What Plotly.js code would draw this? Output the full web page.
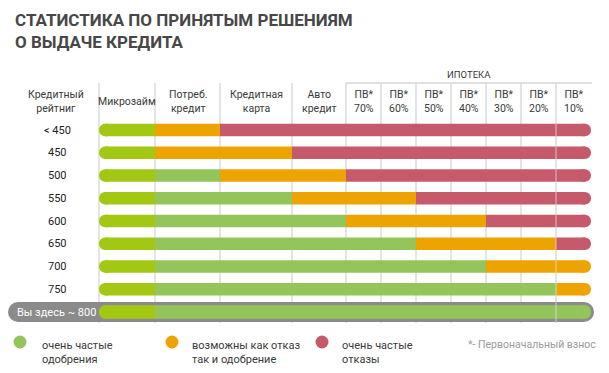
<!DOCTYPE html>
<html><head><meta charset="utf-8">
<script src="https://cdn.plot.ly/plotly-3.0.1.min.js"></script>
<style>html,body{margin:0;padding:0;background:#fff;}#chart{width:609px;height:373px;}</style>
</head><body><div id="chart"></div>
<script>
// ---------- data ----------
const ratings = ['< 450', '450', '500', '550', '600', '650', '700', '750', 'Вы здесь ~ 800'];
const products = ['Микрозайм', 'Потреб.<br>кредит', 'Кредитная<br>карта', 'Авто<br>кредит',
  'ПВ*<br>70%', 'ПВ*<br>60%', 'ПВ*<br>50%', 'ПВ*<br>40%', 'ПВ*<br>30%', 'ПВ*<br>20%', 'ПВ*<br>10%'];
const mortgageLabel = 'ИПОТЕКА';
const ratingHeader = 'Кредитный<br>рейтниг';
// A = очень частые одобрения, P = возможны как отказ так и одобрение, R = очень частые отказы
const decisions = [
  'APRRRRRRRRR',
  'APPRRRRRRRR',
  'AAPPRRRRRRR',
  'AAAPPPRRRRR',
  'AAAAPPPPRRR',
  'AAAAAAPPPPR',
  'AAAAAAAAPPP',
  'AAAAAAAAAAP',
  'AAAAAAAAAAA'
];
const legendLabels = ['очень частые<br>одобрения', 'возможны как отказ<br>так и одобрение', 'очень частые<br>отказы'];
const footnote = '*- Первоначальный взнос';
const currentRow = 8;

// ---------- style ----------
const colors = {A: '#94c55a', P: '#eea400', R: '#c65a6b', M: '#a2c813'};
const gridColor = '#d6d6d6';
const textColor = '#3a3a3a';
const FONT = 'Roboto, "Open Sans", sans-serif';
const W = 609, H = 373;
const colW = [56, 65, 72, 54, 35, 35, 35, 35, 35, 35, 35];
const bounds = [0];
colW.forEach(w => bounds.push(bounds[bounds.length - 1] + w));
const END = bounds[bounds.length - 1];
const px = v => v - 99;              // pixel x -> data x
const rowStep = 22.75, row0 = 130;
const py = p => 1 - p / H;           // pixel y -> paper
const CAP = 14, INSET = 6;

// ---------- bars ----------
const traces = [];
// highlight pill for current rating (rounded both ends)
traces.push({
  type: 'bar', orientation: 'h', y: [currentRow], base: [px(8)],
  x: [END + 3 - px(8)], width: [0.88],
  marker: {color: '#8b8b8b', cornerradius: '50%'}, hoverinfo: 'skip', showlegend: false
});
const caps = {y: [], base: [], x: [], width: [], color: []};
const segs = {y: [], base: [], x: [], width: [], color: []};
function push(t, y, b, len, w, c) { t.y.push(y); t.base.push(b); t.x.push(len); t.width.push(w); t.color.push(c); }
decisions.forEach((row, r) => {
  const bw = r === currentRow ? 0.6 : 0.55;
  const lastColor = colors[row[row.length - 1]];
  // rounded end caps
  push(caps, r, 0, CAP, bw, colors.M);
  push(caps, r, END - CAP, CAP, bw, lastColor);
  // microloan column
  push(segs, r, INSET, bounds[1] - INSET, bw, colors.M);
  let start = 1;
  for (let c = 2; c <= row.length; c++) {
    if (c === row.length || row[c] !== row[start]) {
      const e = c === row.length ? END - INSET : bounds[c];
      push(segs, r, bounds[start], e - bounds[start], bw, colors[row[start]]);
      start = c;
    }
  }
});
traces.push({type: 'bar', orientation: 'h', y: caps.y, base: caps.base, x: caps.x, width: caps.width,
  marker: {color: caps.color, cornerradius: '50%', line: {width: 0}}, hoverinfo: 'skip', showlegend: false});
traces.push({type: 'bar', orientation: 'h', y: segs.y, base: segs.base, x: segs.x, width: segs.width,
  marker: {color: segs.color, cornerradius: 0, line: {width: 0}}, hoverinfo: 'skip', showlegend: false});

// ---------- shapes ----------
const shapes = [];
bounds.slice(0, 11).forEach(b => {
  shapes.push({type: 'line', xref: 'x', yref: 'paper', x0: b, x1: b, y0: py(83), y1: py(323),
    line: {color: gridColor, width: 1.3}, layer: 'below'});
});
shapes.push({type: 'line', xref: 'x', yref: 'paper', x0: bounds[4], x1: END + 1, y0: py(83), y1: py(83),
  line: {color: gridColor, width: 1.3}, layer: 'below'});
shapes.push({type: 'line', xref: 'x', yref: 'paper', x0: bounds[10], x1: bounds[10], y0: py(122), y1: py(322),
  line: {color: 'rgba(225,225,225,0.75)', width: 1}, layer: 'above'});
const legendX = [20, 172, 322];
['A', 'P', 'R'].forEach((s, i) => {
  shapes.push({type: 'circle', xref: 'paper', yref: 'paper', fillcolor: colors[s], line: {width: 0},
    x0: (legendX[i] - 6.5) / W, x1: (legendX[i] + 6.5) / W, y0: py(348.5), y1: py(335.5)});
});

// ---------- annotations ----------
const ann = [];
ratings.forEach((t, r) => {
  const cur = r === currentRow;
  ann.push({text: t, xref: 'x', yref: 'y', x: cur ? px(15) : px(57), y: r,
    xanchor: cur ? 'left' : 'center', yanchor: 'middle', showarrow: false,
    font: {family: FONT, size: 11, color: cur ? '#ffffff' : '#222'}});
});
ann.push({text: ratingHeader, xref: 'x', yref: 'paper', x: px(56), y: py(102), xanchor: 'center', yanchor: 'middle',
  showarrow: false, font: {family: FONT, size: 10.5, color: textColor}});
products.forEach((t, c) => {
  ann.push({text: t, xref: 'x', yref: 'paper', x: (bounds[c] + bounds[c + 1]) / 2, y: py(102),
    xanchor: 'center', yanchor: 'middle', showarrow: false,
    font: {family: FONT, size: 10.5, color: textColor}});
});
ann.push({text: mortgageLabel, xref: 'x', yref: 'paper', x: (bounds[4] + END) / 2, y: py(74),
  xanchor: 'center', yanchor: 'middle', showarrow: false, font: {family: FONT, size: 9.5, color: textColor}});
const legendTextX = [40, 190, 340];
legendLabels.forEach((t, i) => {
  ann.push({text: t, xref: 'paper', yref: 'paper', x: legendTextX[i] / W, y: py(337), xanchor: 'left', yanchor: 'top',
    align: 'left', showarrow: false, font: {family: FONT, size: 11, color: textColor}});
});
ann.push({text: footnote, xref: 'paper', yref: 'paper', x: 466 / W, y: py(344), xanchor: 'left', yanchor: 'middle',
  showarrow: false, font: {family: FONT, size: 10.5, color: '#9a9a9a'}});

const layout = {
  width: W, height: H, margin: {l: 0, r: 0, t: 0, b: 0},
  paper_bgcolor: '#ffffff', plot_bgcolor: 'rgba(0,0,0,0)',
  barmode: 'overlay', showlegend: false,
  title: {text: 'СТАТИСТИКА ПО ПРИНЯТЫМ РЕШЕНИЯМ<br>О ВЫДАЧЕ КРЕДИТА', x: 15 / W, xanchor: 'left',
    xref: 'paper', yref: 'container', y: 1 - 26 / H, yanchor: 'top',
    font: {family: FONT, size: 17, color: '#474747', weight: 'bold'}},
  xaxis: {range: [px(0), px(W)], domain: [0, 1], visible: false, fixedrange: true},
  yaxis: {range: [(H - row0) / rowStep, -row0 / rowStep], domain: [0, 1], visible: false, fixedrange: true},
  shapes, annotations: ann
};
Plotly.newPlot('chart', traces, layout, {displayModeBar: false, staticPlot: true});
</script></body></html>
